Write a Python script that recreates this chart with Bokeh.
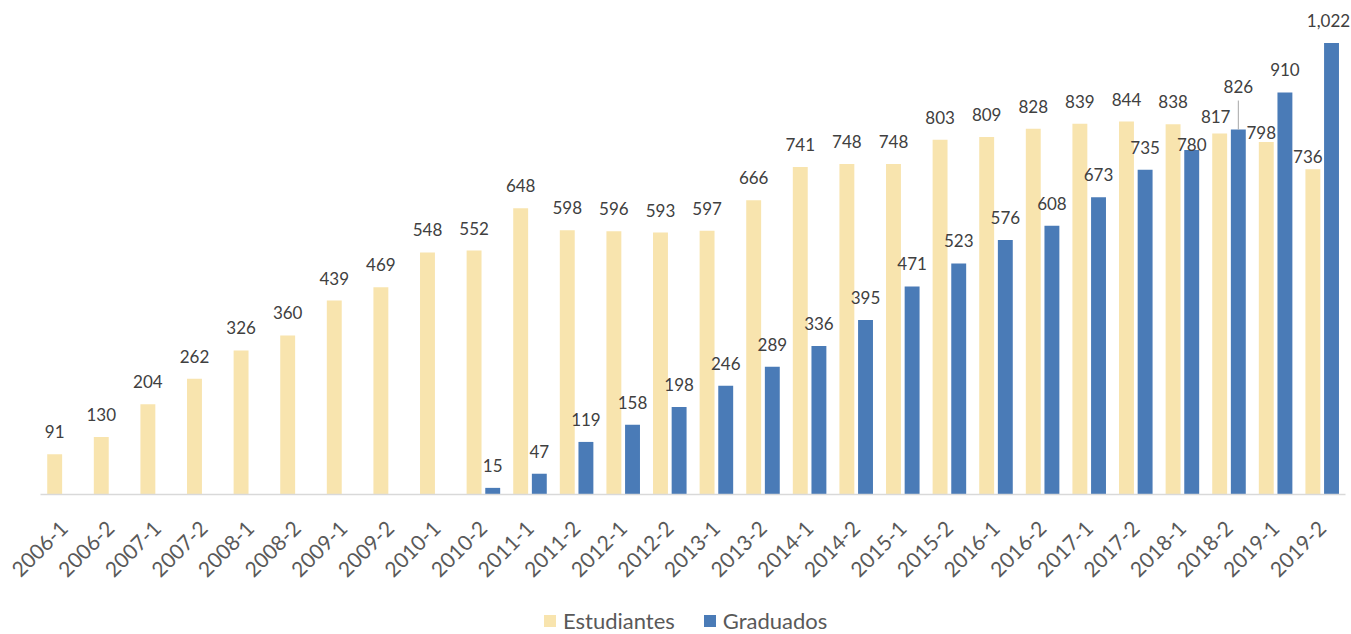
import math
import numpy as np
from bokeh.plotting import figure
from bokeh.models import (ColumnDataSource, Range1d, Legend, LegendItem, LabelSet, FixedTicker)
from bokeh.core.properties import value
from bokeh.embed import file_html
from bokeh.resources import INLINE

# ---------------- data ----------------
periods = ["2006-1", "2006-2", "2007-1", "2007-2", "2008-1", "2008-2", "2009-1", "2009-2",
           "2010-1", "2010-2", "2011-1", "2011-2", "2012-1", "2012-2", "2013-1", "2013-2",
           "2014-1", "2014-2", "2015-1", "2015-2", "2016-1", "2016-2", "2017-1", "2017-2",
           "2018-1", "2018-2", "2019-1", "2019-2"]
estudiantes = [91, 130, 204, 262, 326, 360, 439, 469, 548, 552, 648, 598, 596, 593, 597, 666,
               741, 748, 748, 803, 809, 828, 839, 844, 838, 817, 798, 736]
graduados = [None, None, None, None, None, None, None, None, None, 15, 47, 119, 158, 198, 246,
             289, 336, 395, 471, 523, 576, 608, 673, 735, 780, 826, 910, 1022]
series_names = ["Estudiantes", "Graduados"]

# ---------------- style / layout ----------------
EST_COLOR = "#F8E4AE"
GRAD_COLOR = "#4A7BB7"
LABEL_COLOR = "#404040"
AXIS_TEXT = "#595959"
FONT = "Lato"
W, H = 1350, 634
FRAME_TOP = 8
BASELINE = 494                 # page y of the value 0
Y_MAX = 1100
PPU = (BASELINE - FRAME_TOP) / Y_MAX      # pixels per data unit (y)
Y_MIN = -(H - BASELINE) / PPU             # frame extends below the axis for labels/legend
STEP = 46.6                    # pixels per category
FIRST_CENTER = 63.5            # page x of the first category centre
X_MIN = -FIRST_CENTER / STEP
X_MAX = X_MIN + W / STEP
DEFAULT_GAP = 16               # px between bar top and label baseline
# label adjustments (dx px, gap px) for displaced labels
label_adjust = {
    ("Estudiantes", "2018-2"): (-4, 11),
    ("Estudiantes", "2019-1"): (-5, 3),
    ("Estudiantes", "2019-2"): (-5, 6),
    ("Graduados", "2018-1"): (0, -1),
    ("Graduados", "2018-2"): (0, 37),
    ("Graduados", "2019-2"): (-3, 16),
}
leader_px = {("Graduados", "2018-2"): 29}

p = figure(x_range=Range1d(X_MIN, X_MAX), y_range=Range1d(Y_MIN, Y_MAX),
           width=W, height=H, output_backend="svg", toolbar_location=None,
           y_axis_location=None, min_border_left=0, min_border_right=0,
           min_border_top=FRAME_TOP, min_border_bottom=0,
           outline_line_color=None)
p.grid.visible = False
p.background_fill_color = "white"
p.border_fill_color = "white"

idx = np.arange(len(periods), dtype=float)
offsets = {"Estudiantes": -0.2, "Graduados": 0.2}
src = ColumnDataSource(dict(
    xe=idx + offsets["Estudiantes"],
    xg=idx + offsets["Graduados"],
    est=np.array(estudiantes, dtype=float),
    grad=np.array([np.nan if v is None else v for v in graduados], dtype=float),
))

r_est = p.vbar(x="xe", top="est", bottom=0, width=0.32, source=src,
               fill_color=EST_COLOR, line_color=None)
r_grad = p.vbar(x="xg", top="grad", bottom=0, width=0.32, source=src,
                fill_color=GRAD_COLOR, line_color=None)

for name, vals in zip(series_names, [estudiantes, graduados]):
    xs, ys, txt, dxs = [], [], [], []
    lx, ly0, ly1 = [], [], []
    for i, (per, v) in enumerate(zip(periods, vals)):
        if v is None:
            continue
        dx, gap = label_adjust.get((name, per), (0, DEFAULT_GAP))
        xs.append(i + offsets[name])
        ys.append(v + gap / PPU)
        txt.append(f"{v:,}")
        dxs.append(dx)
        if (name, per) in leader_px:
            lx.append(i + offsets[name])
            ly0.append(v)
            ly1.append(v + leader_px[(name, per)] / PPU)
    lsrc = ColumnDataSource(dict(x=xs, y=ys, t=txt, dx=dxs))
    labels = LabelSet(x="x", y="y", text="t", x_offset="dx", source=lsrc,
                      text_align="center", text_baseline="alphabetic",
                      text_font=value(FONT), text_font_size=value("17px"),
                      text_color=LABEL_COLOR)
    p.add_layout(labels)
    if lx:
        p.segment(x0=lx, y0=ly0, x1=lx, y1=ly1, line_color="#A6A6A6", line_width=1)

# category axis drawn at value 0
xa = p.xaxis[0]
xa.fixed_location = 0
xa.ticker = FixedTicker(ticks=list(range(len(periods))))
xa.major_label_overrides = {i: per for i, per in enumerate(periods)}
xa.bounds = (X_MIN + 40 / STEP, X_MIN + 1345 / STEP)
xa.axis_line_color = "#D9D9D9"
xa.axis_line_width = 1.5
xa.major_tick_line_color = None
xa.major_tick_out = 0
xa.major_tick_in = 0
xa.minor_tick_line_color = None
xa.major_label_orientation = math.pi / 4
xa.major_label_text_font = FONT
xa.major_label_text_font_size = "21px"
xa.major_label_text_color = AXIS_TEXT
xa.major_label_standoff = 30

legend = Legend(items=[LegendItem(label=series_names[0], renderers=[r_est]),
                       LegendItem(label=series_names[1], renderers=[r_grad])],
                orientation="horizontal", location=(542, 0),
                label_text_font=FONT, label_text_font_size="22px", label_text_color=AXIS_TEXT,
                glyph_width=15, glyph_height=15, label_standoff=6, spacing=27,
                border_line_color=None, background_fill_alpha=0, padding=0, margin=0)
p.add_layout(legend)

open("out.html", "w").write(file_html(p, INLINE))
